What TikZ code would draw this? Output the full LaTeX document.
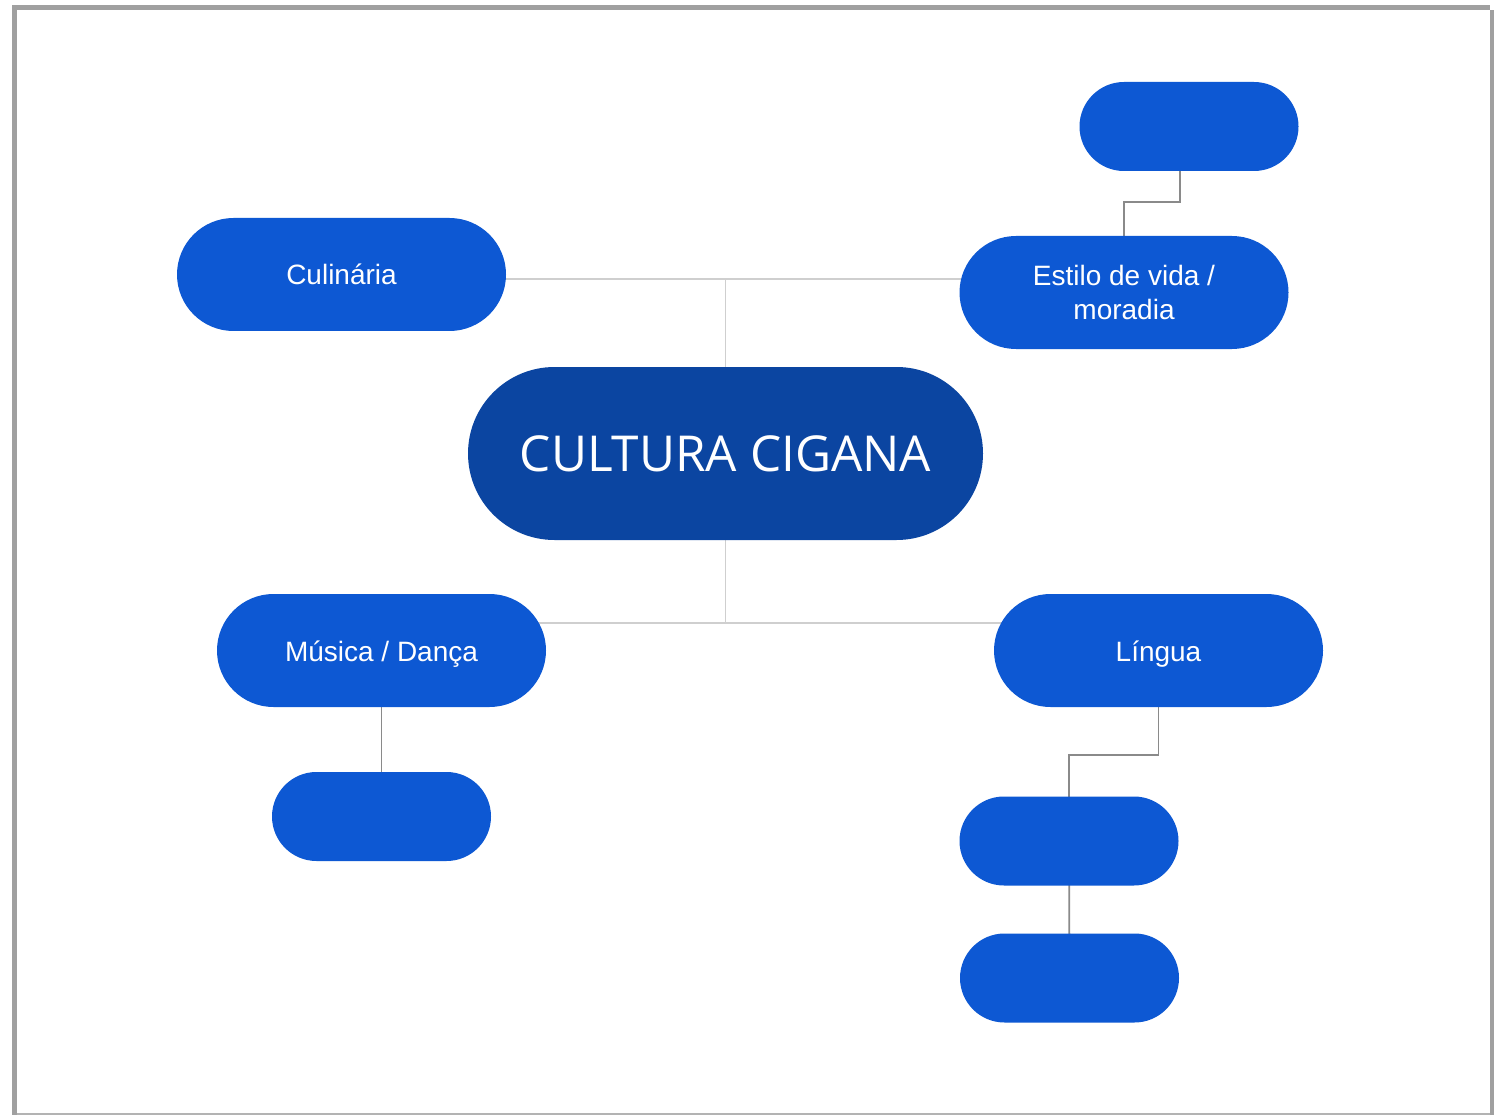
\documentclass[tikz,border=0pt]{standalone}
\usepackage{fontspec}
\setmainfont{Liberation Sans}
\newfontfamily\titlefont{Open Sans}
\usetikzlibrary{shapes.misc,backgrounds}
\definecolor{nodeblue}{HTML}{0D58D3}
\definecolor{centerblue}{HTML}{0B45A1}
\definecolor{lightline}{HTML}{CFCFCF}
\definecolor{darkline}{HTML}{8A8A8A}
\definecolor{framegray}{HTML}{A0A0A0}
\begin{document}
\begin{tikzpicture}[x=1pt,y=-1pt,
  pill/.style={rounded rectangle, fill=nodeblue, text=white, inner sep=0pt,
    font=\fontsize{28}{33.3}\selectfont, align=center},
  oneline/.style={text height=21pt, text depth=0pt},
  bigpill/.style={pill, fill=centerblue, font=\titlefont\fontsize{49.5}{60}\selectfont,
    text height=36pt, text depth=0pt},
  wide/.style={minimum width=329pt, minimum height=113pt},
  small/.style={minimum width=219pt, minimum height=89pt},
  lightconn/.style={draw=lightline, line width=1.8pt},
  darkconn/.style={draw=darkline, line width=1.8pt}]
\useasboundingbox (0,0) rectangle (1494,1115);
% nodes
\node[bigpill, minimum width=515pt, minimum height=173pt] (cen) at (725.5,453.5) {CULTURA CIGANA};
\node[pill, wide, oneline] (cul) at (341.5,274.5) {Culinária};
\node[pill, wide] (est) at (1124,292.5) {Estilo de vida /\\moradia};
\node[pill, small] (tr) at (1189,126.5) {};
\node[pill, wide, oneline] (mus) at (381.5,650.5) {Música / Dança};
\node[pill, wide, oneline] (lin) at (1158.5,650.5) {Língua};
\node[pill, small] (ml) at (381.5,816.5) {};
\node[pill, small] (c1) at (1069,841) {};
\node[pill, small] (c2) at (1069.5,978) {};
% junction coordinates
\coordinate (hy1) at (0,279);
\coordinate (hy2) at (0,623);
\coordinate (j1) at (1180,202);
\coordinate (j2) at (0,755);
\begin{scope}[on background layer]
  \fill[white] (0,0) rectangle (1494,1115);
  % frame
  \fill[framegray] (12,5) rectangle (1490,10);
  \fill[framegray] (12,5) rectangle (17,1115);
  \fill[framegray] (1490,10) rectangle (1494,1115);
  \fill[framegray!80] (17,1113) rectangle (1490,1115);
  % connectors
  \draw[lightconn] (cul.center |- hy1) -- (est.center |- hy1);
  \draw[lightconn] (cen.center) -- (cen.center |- hy1);
  \draw[lightconn] (cen.center) -- (cen.center |- hy2);
  \draw[lightconn] (mus.center |- hy2) -- (lin.center |- hy2);
  \draw[darkconn] (tr.center -| j1) -- (j1) -- (j1 -| est.center) -- (est.center);
  \draw[darkconn] (mus.center) -- (ml.center);
  \draw[darkconn] (lin.center) -- (lin.center |- j2) -- (j2 -| c1.center) -- (c1.center);
  \draw[darkconn] (c1.center) -- (c2.center);
\end{scope}
\end{tikzpicture}
\end{document}
